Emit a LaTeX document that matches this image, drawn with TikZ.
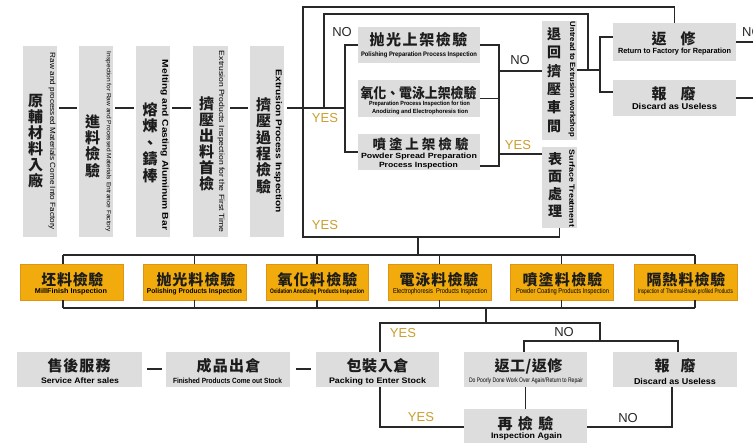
\documentclass[tikz,border=0pt]{standalone}
\usepackage{fontspec}
\usepackage{graphicx}
\setmainfont{Liberation Sans}
\newfontfamily\cjk{Noto Sans CJK TC}
\newfontfamily\en{Liberation Sans}
\definecolor{boxgray}{RGB}{221,221,221}
\definecolor{orng}{RGB}{241,171,12}
\definecolor{orngd}{RGB}{222,148,20}
\definecolor{ln}{RGB}{40,40,40}
\definecolor{yesc}{RGB}{204,158,46}
\definecolor{txt}{RGB}{28,28,28}
\newcommand\sqz[2]{\resizebox{#1}{\height}{#2}}
\def\zsloop#1{\ifx#1\relax\else\hfil#1\expandafter\zsloop\fi}
\def\zsstart#1{#1\zsloop}
\newcommand\zs[2]{\makebox[#1][s]{\zsstart#2\relax}}
\tikzset{
  gbox/.style={fill=boxgray, draw=none, inner sep=0},
  obox/.style={fill=orng, draw=orngd, line width=0.6pt, inner sep=0, minimum width=103, minimum height=36},
  conn/.style={draw=ln, line width=1.5pt},
  zh/.style={inner sep=0, text=txt, font=\cjk\bfseries\fontsize{15}{15}\selectfont},
  zhv/.style={inner sep=0, text=txt, align=center},
  ent/.style={inner sep=0, text=black},
  lbl/.style={inner sep=0, font=\en\fontsize{13}{13}\selectfont},
  yes/.style={lbl, text=yesc},
  no/.style={lbl, text=ln}
}
\begin{document}
\begin{tikzpicture}[x=1pt,y=-1pt]
\useasboundingbox (0,0) rectangle (753,443);
\clip (0,0) rectangle (753,443);
\fill[white] (0,0) rectangle (753,443);
% ---------- top vertical boxes
\node[gbox, minimum width=34, minimum height=191] (b1) at (40,141.5) {};
\node[gbox, minimum width=34, minimum height=191] (b2) at (96,141.5) {};
\node[gbox, minimum width=34, minimum height=191] (b3) at (153,141.5) {};
\node[gbox, minimum width=35, minimum height=191] (b4) at (210.5,141.5) {};
\node[gbox, minimum width=34, minimum height=191] (b5) at (267,141.5) {};
\node[zhv, font=\cjk\bfseries\fontsize{15}{16}\selectfont] (z1) at (35.5,141.5) {原\\輔\\材\\料\\入\\廠};
\node[zhv, font=\cjk\bfseries\fontsize{15}{16.3}\selectfont] (z2) at (92.5,146) {進\\料\\檢\\驗};
\node[zhv, font=\cjk\bfseries\fontsize{15}{16.5}\selectfont] (z3) at (150,142.5) {熔\\煉\\、\\鑄\\棒};
\node[zhv, font=\cjk\bfseries\fontsize{15}{16}\selectfont] (z4) at (206.5,143.5) {擠\\壓\\出\\料\\首\\檢};
\node[zhv, font=\cjk\bfseries\fontsize{15}{16.4}\selectfont] (z5) at (263.5,145.5) {擠\\壓\\過\\程\\檢\\驗};
\node[ent, rotate=-90, font=\en\fontsize{7.5}{8}\selectfont] (v1) at (52,141.5) {\sqz{177pt}{Raw and processed Materials Come Into Factory}};
\node[ent, rotate=-90, font=\en\fontsize{6.2}{7}\selectfont] (v2) at (108.5,142) {\sqz{180pt}{Inspection for Raw and Processed Materials Entrance Factory}};
\node[ent, rotate=-90, font=\en\bfseries\fontsize{8.5}{9}\selectfont] (v3) at (164.5,145) {\sqz{170pt}{Melting and Casting Aluminum Bar}};
\node[ent, rotate=-90, font=\en\fontsize{7.5}{8}\selectfont] (v4) at (221,141.5) {\sqz{181pt}{Extrusion Products Inspection for the First Time}};
\node[ent, rotate=-90, font=\en\bfseries\fontsize{8.5}{9}\selectfont] (v5) at (278,141.5) {\sqz{143pt}{Extrusion Process Inspection}};
% ---------- middle boxes
\node[gbox, minimum width=122, minimum height=36] (p1) at (419,45) {};
\node[gbox, minimum width=122, minimum height=37] (p2) at (419,98.5) {};
\node[gbox, minimum width=122, minimum height=36] (p3) at (419,152) {};
\node[zh] (p1z) at (418.5,40) {\zs{98pt}{抛光上架檢驗}};
\node[zh, font=\cjk\bfseries\fontsize{14}{14}\selectfont] (p2z) at (418.5,93.5) {\sqz{116pt}{氧化、電泳上架檢驗}};
\node[zh, font=\cjk\bfseries\fontsize{13.5}{13.5}\selectfont] (p3z) at (420.5,144) {\zs{96pt}{噴塗上架檢驗}};
\node[ent, font=\en\bfseries\fontsize{6.5}{7}\selectfont] (p1e) at (419,54.5) {\sqz{116pt}{Polishing Preparation Process Inspection}};
\node[ent, font=\en\bfseries\fontsize{6}{7}\selectfont] (p2e1) at (419.5,103.5) {\sqz{101pt}{Preparation Process Inspection for tion}};
\node[ent, font=\en\bfseries\fontsize{6}{7}\selectfont] (p2e2) at (420,111.5) {\sqz{96pt}{Anodizing and Electrophoresis tion}};
\node[ent, font=\en\bfseries\fontsize{7.5}{8}\selectfont] (p3e1) at (419,157) {\sqz{116pt}{Powder Spread Preparation}};
\node[ent, font=\en\bfseries\fontsize{7.5}{8}\selectfont] (p3e2) at (418.5,165.5) {\sqz{79pt}{Process Inspection}};
% ---------- untread / surface
\node[gbox, minimum width=35, minimum height=119] (u) at (559.5,80.5) {};
\node[gbox, minimum width=35, minimum height=81] (s) at (559.5,187.5) {};
\node[zhv, font=\cjk\bfseries\fontsize{14}{18.3}\selectfont] (uz) at (554,80) {退\\回\\擠\\壓\\車\\間};
\node[zhv, font=\cjk\bfseries\fontsize{14}{17.2}\selectfont] (sz) at (555,185) {表\\面\\處\\理};
\node[ent, rotate=-90, font=\en\bfseries\fontsize{7.5}{8}\selectfont] (vu) at (572,79.5) {\sqz{115pt}{Untread to Extrusion workshop}};
\node[ent, rotate=-90, font=\en\bfseries\fontsize{7.5}{8}\selectfont] (vs) at (572,188.5) {\sqz{77pt}{Surface Treatment}};
% ---------- return / discard
\node[gbox, minimum width=123, minimum height=38] (r1) at (674.5,42) {};
\node[gbox, minimum width=123, minimum height=36] (r2) at (674.5,98) {};
\node[zh] (r1z) at (673.5,38.5) {\zs{44pt}{返修}};
\node[zh] (r2z) at (673.5,93.5) {\zs{44pt}{報廢}};
\node[ent, font=\en\bfseries\fontsize{7.5}{8}\selectfont] (r1e) at (674.5,51.5) {\sqz{113pt}{Return to Factory for Reparation}};
\node[ent, font=\en\bfseries\fontsize{8.5}{9}\selectfont] (r2e) at (674.5,106.5) {\sqz{85pt}{Discard as Useless}};
% ---------- product row
\node[obox] (o1) at (71.5,282) {};
\node[obox] (o2) at (194.5,282) {};
\node[obox, minimum width=102] (o3) at (317,282) {};
\node[obox] (o4) at (439.5,282) {};
\node[obox] (o5) at (561.5,282) {};
\node[obox] (o6) at (685.5,282) {};
\node[zh] (o1z) at (72.5,279.5) {\zs{62pt}{坯料檢驗}};
\node[zh] (o2z) at (196,279.5) {\zs{79pt}{抛光料檢驗}};
\node[zh] (o3z) at (317.5,279.5) {\zs{80pt}{氧化料檢驗}};
\node[zh] (o4z) at (439,279.5) {\zs{79pt}{電泳料檢驗}};
\node[zh] (o5z) at (562.5,279.5) {\zs{80pt}{噴塗料檢驗}};
\node[zh] (o6z) at (686,279.5) {\zs{79pt}{隔熱料檢驗}};
\node[ent, font=\en\bfseries\fontsize{7}{8}\selectfont] (o1e) at (71,292) {\sqz{72pt}{MillFinish Inspection}};
\node[ent, font=\en\bfseries\fontsize{7}{8}\selectfont] (o2e) at (194.5,292) {\sqz{95pt}{Polishing Products Inspection}};
\node[ent, font=\en\bfseries\fontsize{6.5}{8}\selectfont] (o3e) at (317,292) {\sqz{94pt}{Oxidation Anodizing Products Inspection}};
\node[ent, font=\en\fontsize{7}{8}\selectfont] (o4e) at (440,292) {\sqz{94pt}{Electrophoresis\ \ Products Inspection}};
\node[ent, font=\en\fontsize{7}{8}\selectfont] (o5e) at (562.5,292) {\sqz{93pt}{Powder Coating Products Inspection}};
\node[ent, font=\en\fontsize{6.5}{8}\selectfont] (o6e) at (685.5,292) {\sqz{95pt}{Inspection of Thermal-Break profiled Products}};
% ---------- bottom row
\node[gbox, minimum width=125, minimum height=35] (ss) at (79.5,369.5) {};
\node[gbox, minimum width=124, minimum height=35] (fp) at (228,369.5) {};
\node[gbox, minimum width=123, minimum height=35] (pk) at (377.5,369.5) {};
\node[gbox, minimum width=123, minimum height=35] (rw) at (525.5,369.5) {};
\node[gbox, minimum width=124, minimum height=35] (dc) at (675,369.5) {};
\node[gbox, minimum width=123, minimum height=36] (rc) at (525.5,427) {};
\node[zh] (ssz) at (79,366) {\zs{63pt}{售後服務}};
\node[zh] (fpz) at (228.5,366) {\zs{64pt}{成品出倉}};
\node[zh] (pkz) at (377.5,366) {\zs{62pt}{包裝入倉}};
\node[zh] (rwz) at (528.5,366) {\zs{68pt}{返工/返修}};
\node[zh] (dcz) at (675,366) {\zs{41pt}{報廢}};
\node[zh] (rcz) at (525.5,424) {\zs{56pt}{再檢驗}};
\node[ent, font=\en\bfseries\fontsize{8}{9}\selectfont] (sse) at (80,381) {\sqz{78pt}{Service After sales}};
\node[ent, font=\en\bfseries\fontsize{7.5}{8}\selectfont] (fpe) at (227.5,381) {\sqz{109pt}{Finished Products Come out Stock}};
\node[ent, font=\en\bfseries\fontsize{8}{9}\selectfont] (pke) at (377.5,381) {\sqz{97pt}{Packing to Enter Stock}};
\node[ent, font=\en\fontsize{6.5}{7}\selectfont] (rwe) at (526,381) {\sqz{114pt}{Do Poorly Done Work Over Again/Return to Repair}};
\node[ent, font=\en\bfseries\fontsize{8.5}{9}\selectfont] (dce) at (675,381) {\sqz{82pt}{Discard as Useless}};
\node[ent, font=\en\bfseries\fontsize{8}{9}\selectfont] (rce) at (526.5,436) {\sqz{71pt}{Inspection Again}};
% ---------- connectors: top
\coordinate (yd) at (0,108);
\draw[conn, shorten <=2, shorten >=2] (b1.east |- yd) -- (b2.west |- yd);
\draw[conn, shorten <=2, shorten >=2] (b2.east |- yd) -- (b3.west |- yd);
\draw[conn, shorten <=2, shorten >=2] (b3.east |- yd) -- (b4.west |- yd);
\draw[conn, shorten <=2, shorten >=2] (b4.east |- yd) -- (b5.west |- yd);
\coordinate (jL) at (345,108);
\draw[conn, shorten <=3] (b5.east |- yd) -- (jL);
\draw[conn] (p1.west) -| (jL) |- (p3.west);
\coordinate (jRb) at (499,166);
\coordinate (p3r) at (480,166);
\draw[conn] (p1.east) -| (jRb) -- (p3r);
\draw[conn] (p2.east) -- (p2.east -| jRb);
\coordinate (yNO) at (0,71);
\coordinate (yYES) at (0,154);
\draw[conn] (jRb |- yNO) -- (u.west |- yNO);
\draw[conn] (jRb |- yYES) -- (s.west |- yYES);
% inner loop
\coordinate (yU) at (0,70);
\coordinate (jU) at (600,70);
\coordinate (jUt) at (600,37);
\coordinate (jUb) at (600,92);
\draw[conn] (u.east |- yU) -- (jU);
\draw[conn] (r1.west |- jUt) -| (jUb) -- (r2.west |- jUb);
\coordinate (lpA) at (588,70);
\coordinate (lpB) at (324,14);
\coordinate (lpC) at (324,108);
\draw[conn] (lpA) |- (lpB) -- (lpC);
% outer loop
\coordinate (oA) at (303,7);
\coordinate (oB) at (303,237);
\draw[conn] (r1.north) |- (oA) -- (oB) -| (s.south);
\coordinate (eR) at (760,0);
\draw[conn] (r1.east) -- (r1.east -| eR);
\draw[conn] (r2.east) -- (r2.east -| eR);
\coordinate (mA) at (418,237);
\coordinate (mB) at (418,255);
\draw[conn] (mA) -- (mB);
% product row
\coordinate (tL) at (63,255);
\coordinate (tR) at (695,255);
\coordinate (bL) at (63,308);
\coordinate (bR) at (695,308);
\draw[conn] (tL) -- (tR);
\draw[conn] (bL) -- (bR);
\draw[conn] (tL) -- (tL |- o1.north);
\draw[conn] (bL) -- (bL |- o1.south);
\draw[conn] (tR) -- (tR |- o6.north);
\draw[conn] (bR) -- (bR |- o6.south);
\foreach \n in {o2,o3,o4,o5} {
  \draw[conn] (\n.north |- tL) -- (\n.north);
  \draw[conn] (\n.south |- bL) -- (\n.south);
}
\coordinate (dA) at (486,308);
\coordinate (dB) at (486,323);
\draw[conn] (dA) -- (dB);
\coordinate (yL) at (380,323);
\coordinate (yR) at (600,323);
\coordinate (nA) at (600,341);
\draw[conn] (pk.north -| yL) |- (yR) -- (nA);
\coordinate (nL) at (524,341);
\coordinate (nR) at (678,341);
\draw[conn] (rw.north -| nL) |- (nR) -- (dc.north -| nR);
\coordinate (qL) at (380,427);
\coordinate (qR) at (672,427);
\draw[conn] (pk.south -| qL) |- (rc.west);
\draw[conn] (rw.south) -- (rc.north);
\draw[conn] (dc.south -| qR) |- (rc.east);
\coordinate (yb) at (0,369);
\draw[conn, shorten <=5, shorten >=4] (ss.east |- yb) -- (fp.west |- yb);
\draw[conn, shorten <=6, shorten >=5] (fp.east |- yb) -- (pk.west |- yb);
% ---------- labels
\node[no] (n1) at (342,32.5) {NO};
\node[no] (n2) at (520,60) {NO};
\node[no, anchor=west] (n3) at (742,32.5) {NO};
\node[yes] (y1) at (325,118) {YES};
\node[yes] (y2) at (325,225) {YES};
\node[yes] (y3) at (518,145) {YES};
\node[yes] (y4) at (403,333) {YES};
\node[no] (n4) at (564,332) {NO};
\node[yes] (y5) at (421,417.5) {YES};
\node[no] (n5) at (628,418) {NO};
\end{tikzpicture}
\end{document}
